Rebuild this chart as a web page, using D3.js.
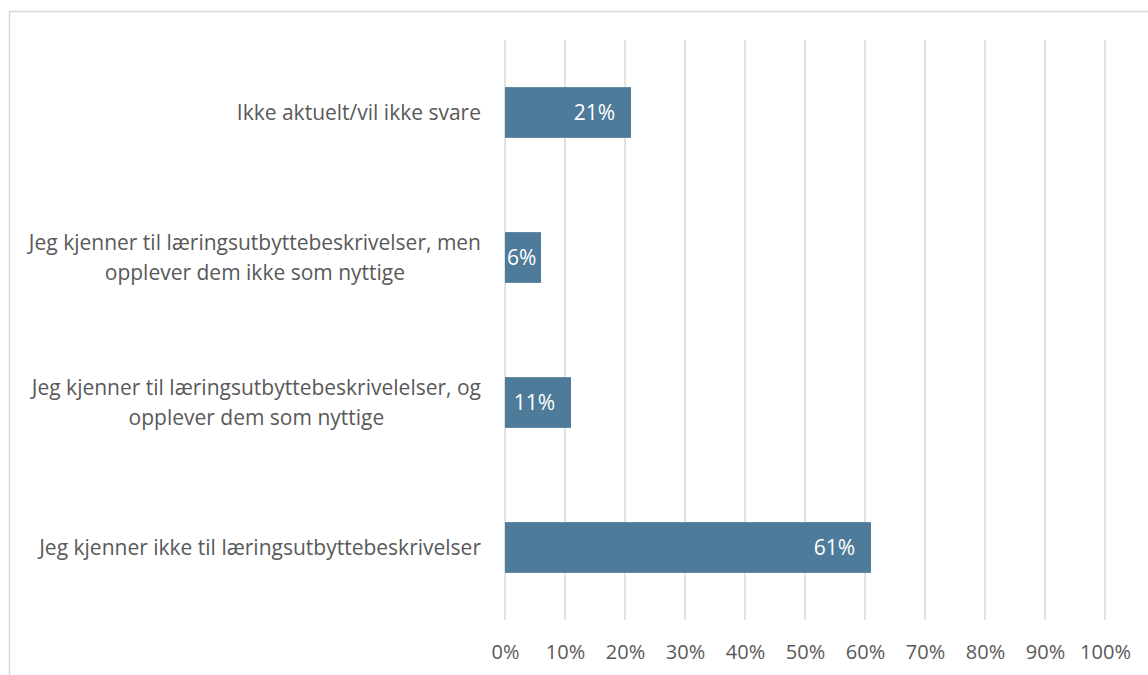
<!DOCTYPE html>
<html>
<head>
<meta charset="utf-8">
<script src="https://cdn.jsdelivr.net/npm/d3@7"></script>
<style>
  body { margin: 0; background: #fff; }
  svg text { font-family: "Open Sans", Lato, sans-serif; }
</style>
</head>
<body>
<div id="chart"></div>
<script>
// categories listed top to bottom, as drawn
const categories = [
  ['Ikke aktuelt/vil ikke svare'],
  ['Jeg kjenner til læringsutbyttebeskrivelser, men', 'opplever dem ikke som nyttige'],
  ['Jeg kjenner til læringsutbyttebeskrivelelser, og', 'opplever dem som nyttige'],
  ['Jeg kjenner ikke til læringsutbyttebeskrivelser']
];
const values = [0.21, 0.06, 0.11, 0.61];
const ticks = [0, 0.1, 0.2, 0.3, 0.4, 0.5, 0.6, 0.7, 0.8, 0.9, 1];

const W = 1148, H = 675;
const textColor = '#595959';
const gridColor = '#d9d9d9';
const barColor = '#4e7b9a';

const svg = d3.select('#chart').append('svg')
  .attr('width', W)
  .attr('height', H);

// chart area frame (runs off the right and bottom edges)
svg.append('rect')
  .attr('x', 9.5).attr('y', 11.5)
  .attr('width', W + 10).attr('height', H + 10)
  .attr('fill', 'none')
  .attr('stroke', gridColor)
  .attr('stroke-width', 1.5);

const x = d3.scaleLinear().domain([0, 1]).range([505, 1105]);
const y = d3.scaleBand()
  .domain(d3.range(categories.length))
  .range([40, 620])
  .paddingInner(0.65)
  .paddingOuter(0.325);

// vertical gridlines
svg.append('g')
  .selectAll('line')
  .data(ticks)
  .enter()
  .append('line')
  .attr('x1', (d) => x(d)).attr('x2', (d) => x(d))
  .attr('y1', 40).attr('y2', 620)
  .attr('stroke', gridColor)
  .attr('stroke-width', 1.5);

// x axis tick labels
const xAxis = d3.axisBottom(x)
  .tickValues(ticks)
  .tickFormat(d3.format('.0%'))
  .tickSize(0)
  .tickPadding(0);

const axisG = svg.append('g')
  .attr('transform', 'translate(0, 652)')
  .call(xAxis);
axisG.select('.domain').remove();
axisG.selectAll('text')
  .attr('font-family', '"Open Sans", Lato, sans-serif')
  .attr('font-size', 20)
  .attr('fill', textColor)
  .attr('dy', '0.35em');

// bars
svg.append('g')
  .selectAll('rect')
  .data(values)
  .enter()
  .append('rect')
  .attr('x', x(0))
  .attr('y', (d, i) => y(i))
  .attr('width', (d) => x(d) - x(0))
  .attr('height', y.bandwidth())
  .attr('fill', barColor);

// value labels, inside end of bar
svg.append('g')
  .selectAll('text')
  .data(values)
  .enter()
  .append('text')
  .attr('y', (d, i) => y(i) + y.bandwidth() / 2)
  .attr('dy', '0.35em')
  .attr('text-anchor', 'end')
  .attr('font-size', 21)
  .attr('fill', '#fff')
  .text((d) => d3.format('.0%')(d))
  .attr('x', function (d) {
    const tw = this.getComputedTextLength();
    return Math.max(x(d) - 16, x(0) + tw + 2);
  });

// category labels (wrapped lines centred on each other, block right aligned)
const labelRight = 481;
const lineH = 30;
categories.forEach((lines, i) => {
  const g = svg.append('g');
  const cy = y(i) + y.bandwidth() / 2;
  const texts = lines.map((line, j) => g.append('text')
    .attr('font-size', 21)
    .attr('fill', textColor)
    .attr('text-anchor', 'middle')
    .attr('y', cy + (j - (lines.length - 1) / 2) * lineH)
    .attr('dy', '0.35em')
    .text(line));
  const maxW = d3.max(texts, (t) => t.node().getComputedTextLength());
  texts.forEach((t) => t.attr('x', labelRight - maxW / 2));
});
</script>
</body>
</html>
